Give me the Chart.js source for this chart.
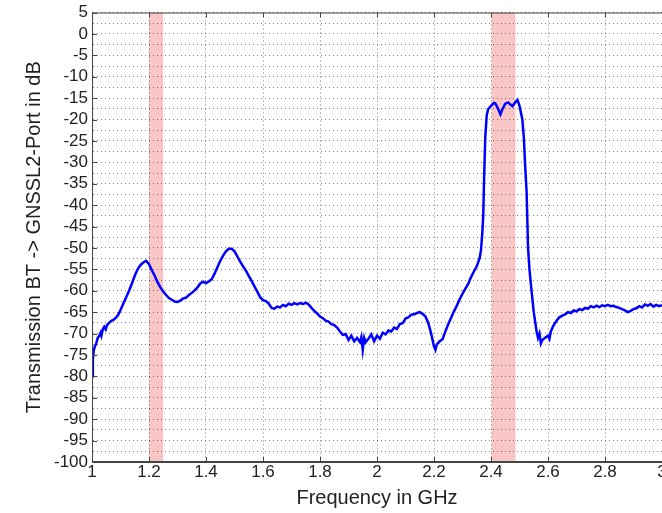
<!DOCTYPE html>
<html>
<head>
<meta charset="utf-8">
<script src="https://cdn.jsdelivr.net/npm/chart.js@4"></script>
<style>
  body { margin: 0; overflow: hidden; background: #fff; }
  canvas { display: block; }
</style>
</head>
<body>
<canvas id="chart" width="700" height="513"></canvas>
<script>
// frequency in GHz
const freq = [
  1.000, 1.003, 1.006, 1.010, 1.015, 1.020, 1.025, 1.030, 1.033, 1.038, 1.043, 1.048, 1.053, 1.060, 1.068, 1.075, 1.085, 1.092,
  1.10, 1.11, 1.12, 1.13, 1.14, 1.15, 1.16, 1.17, 1.18, 1.19, 1.20, 1.21, 1.22, 1.23, 1.24, 1.25, 1.26, 1.27, 1.28, 1.29,
  1.30, 1.31, 1.32, 1.33, 1.34, 1.35, 1.36, 1.37, 1.38, 1.39, 1.40, 1.41, 1.42, 1.43, 1.44, 1.45, 1.46, 1.47, 1.48, 1.49,
  1.50, 1.51, 1.52, 1.53, 1.54, 1.55, 1.56, 1.57, 1.58, 1.59, 1.60, 1.61, 1.62, 1.63, 1.64, 1.65, 1.66, 1.67, 1.68, 1.69,
  1.70, 1.71, 1.72, 1.73, 1.74, 1.75, 1.76, 1.77, 1.78, 1.79, 1.80, 1.81, 1.82, 1.83, 1.84, 1.85, 1.86, 1.87, 1.88, 1.89,
  1.90, 1.91, 1.92, 1.93, 1.94, 1.945, 1.95, 1.955, 1.96, 1.97, 1.98, 1.99,
  2.00, 2.01, 2.02, 2.03, 2.04, 2.05, 2.06, 2.07, 2.08, 2.09, 2.10, 2.11, 2.12, 2.13, 2.14, 2.15, 2.16, 2.17, 2.18, 2.19,
  2.20, 2.205, 2.21, 2.22, 2.23, 2.24, 2.25, 2.26, 2.27, 2.28, 2.29, 2.30, 2.31, 2.32, 2.33, 2.34, 2.35, 2.36, 2.365,
  2.37, 2.373, 2.376, 2.38, 2.385, 2.39, 2.40, 2.41, 2.415, 2.425, 2.433, 2.44, 2.45, 2.46, 2.468, 2.475, 2.485, 2.493,
  2.50, 2.51, 2.515, 2.52, 2.525, 2.53, 2.535, 2.54, 2.55, 2.56, 2.565, 2.57, 2.575, 2.58, 2.59, 2.60, 2.605,
  2.61, 2.62, 2.63, 2.64, 2.65, 2.66, 2.67, 2.68, 2.69, 2.70, 2.71, 2.72, 2.73, 2.74, 2.75, 2.76, 2.77, 2.78, 2.79,
  2.80, 2.81, 2.82, 2.83, 2.84, 2.85, 2.86, 2.87, 2.88, 2.89, 2.90, 2.91, 2.92, 2.93, 2.94, 2.95, 2.96, 2.97, 2.98, 2.99, 3.00
];

// transmission in dB
const transmission = [
  -80, -76, -74, -73, -72.3, -71, -70.6, -69.8, -70.5, -69, -68.4, -69, -68, -67.5, -67, -66.8, -66.2, -65.6,
  -64.5, -63, -61.5, -60, -58.3, -56.5, -55, -54, -53.4, -53, -53.8, -55.2, -56.5, -58, -59.2, -60.2, -61, -61.7, -62.1, -62.5,
  -62.6, -62.3, -61.8, -61.6, -61, -60.5, -59.9, -59.2, -58.3, -57.9, -58.2, -57.8, -57.3, -56, -54.5, -53, -51.8, -50.8, -50.2, -50.2,
  -50.8, -52, -53.2, -54.3, -55.3, -56.5, -57.7, -59, -60.2, -61.5, -62.2, -62.4, -63, -64, -64.2, -63.7, -63.9, -63.3, -63.6, -63,
  -63.3, -62.9, -63.2, -62.9, -63.1, -62.8, -63.2, -64, -64.7, -65.3, -66, -66.4, -67, -67.2, -67.8, -68, -68.6, -69.5, -70.3, -70.1,
  -71.5, -70.5, -71.8, -71, -72, -70.8, -73.8, -71, -72, -71.2, -70.2, -71.8,
  -70.5, -71.2, -69.8, -70.2, -69.3, -69.5, -68.6, -68.9, -67.8, -67.6, -66.5, -66.2, -65.6, -65.5, -65.2, -65, -65.4, -66, -67.5, -70,
  -73, -73.8, -72.5, -71.8, -71.3, -69.5, -67.8, -66.3, -64.8, -63.5, -62, -60.7, -59.5, -58.4, -56.8, -55.5, -54.3, -52.4, -50.5,
  -46, -42, -33, -24, -19, -17.6, -16.8, -16.1, -16.2, -17.5, -18.8, -17.6, -16.3, -16, -16.5, -16.9, -16, -15.4,
  -16.8, -20, -24, -31, -37, -50, -55, -58.5, -65, -69.5, -71, -70, -72.3, -71.5, -71, -70.5, -71.2,
  -69.5, -68, -67, -66.2, -65.8, -65.5, -65, -65.2, -64.6, -64.8, -64.3, -64.5, -64, -64.2, -63.6, -63.9, -63.5, -63.8, -63.4,
  -63.6, -63.3, -63.6, -63.5, -63.8, -64, -64.3, -64.6, -65, -64.7, -64.3, -64.1, -63.6, -63.9, -63.2, -63.5, -63.1, -63.7, -63.3, -63.6, -63.4
];

// shaded frequency bands (GHz): GNSS L2 and Bluetooth
const bandStart = [1.20, 2.402];
const bandEnd = [1.25, 2.486];

const xTickStep = 0.2;
const yTickStep = 2.5;

const bandsPlugin = {
  id: "bands",
  beforeDraw(chart) {
    const { ctx, chartArea, scales } = chart;
    ctx.save();
    ctx.fillStyle = "rgba(245,160,160,0.6)";
    bandStart.forEach((s, i) => {
      const x1 = scales.x.getPixelForValue(s);
      const x2 = scales.x.getPixelForValue(bandEnd[i]);
      ctx.fillRect(x1, chartArea.top, x2 - x1, chartArea.bottom - chartArea.top);
    });
    ctx.restore();
  }
};

// matlab style solid box + inward tick marks
const boxPlugin = {
  id: "box",
  afterDraw(chart) {
    const { ctx, chartArea, scales } = chart;
    const { left, right, top, bottom } = chartArea;
    ctx.save();
    ctx.strokeStyle = "#444";
    ctx.lineWidth = 1;
    ctx.setLineDash([]);
    ctx.beginPath();
    ctx.moveTo(left + 0.5, top + 0.5);
    ctx.lineTo(right, top + 0.5);
    ctx.moveTo(left + 0.5, top);
    ctx.lineTo(left + 0.5, bottom);
    ctx.moveTo(left, bottom - 0.5);
    ctx.lineTo(right, bottom - 0.5);
    scales.x.ticks.forEach(t => {
      const px = Math.round(scales.x.getPixelForValue(t.value)) + 0.5;
      ctx.moveTo(px, bottom);
      ctx.lineTo(px, bottom - 5);
      ctx.moveTo(px, top);
      ctx.lineTo(px, top + 5);
    });
    scales.y.ticks.forEach(t => {
      if (t.value % 5 !== 0) return;
      const py = Math.round(scales.y.getPixelForValue(t.value)) + 0.5;
      ctx.moveTo(left, py);
      ctx.lineTo(left + 5, py);
    });
    ctx.stroke();
    ctx.restore();
  }
};

const gridStyle = {
  color: "rgba(0,0,0,0.5)",
  lineWidth: 1,
  drawTicks: false
};
const borderStyle = { color: "#444", width: 1, dash: [1, 3] };

new Chart(document.getElementById("chart"), {
  type: "line",
  data: {
    datasets: [{
      data: freq.map((f, i) => ({ x: f, y: transmission[i] })),
      borderColor: "#0000ff",
      borderWidth: 2.5,
      pointRadius: 0,
      tension: 0,
      fill: false
    }]
  },
  options: {
    responsive: false,
    animation: false,
    events: [],
    layout: { padding: { top: 9, right: 38, left: 0, bottom: 0 } },
    plugins: { legend: { display: false }, tooltip: { enabled: false } },
    scales: {
      x: {
        type: "linear",
        min: 1,
        max: 3,
        grid: gridStyle,
        border: borderStyle,
        ticks: {
          stepSize: xTickStep,
          padding: 2,
          maxRotation: 0,
          autoSkip: false,
          color: "#222",
          font: { family: "'Liberation Sans', Arial, sans-serif", size: 17, lineHeight: 1 },
          callback: v => String(Number(v.toFixed(1)))
        },
        title: {
          display: true,
          text: "Frequency in GHz",
          color: "#222",
          padding: { top: 0, bottom: 3 },
          font: { family: "'Liberation Sans', Arial, sans-serif", size: 20 }
        },
        afterFit: s => { s.height = 51; }
      },
      y: {
        min: -100,
        max: 5,
        grid: gridStyle,
        border: borderStyle,
        ticks: {
          stepSize: yTickStep,
          padding: 4,
          autoSkip: false,
          color: "#222",
          font: { family: "'Liberation Sans', Arial, sans-serif", size: 17, lineHeight: 1 },
          callback: v => (v % 5 === 0 ? String(v) : "")
        },
        title: {
          display: true,
          text: "Transmission BT -> GNSSL2-Port in dB",
          color: "#222",
          padding: { top: 22, bottom: 0 },
          font: { family: "'Liberation Sans', Arial, sans-serif", size: 20 }
        },
        afterFit: s => { s.width = 92; }
      }
    }
  },
  plugins: [bandsPlugin, boxPlugin]
});
</script>
</body>
</html>
